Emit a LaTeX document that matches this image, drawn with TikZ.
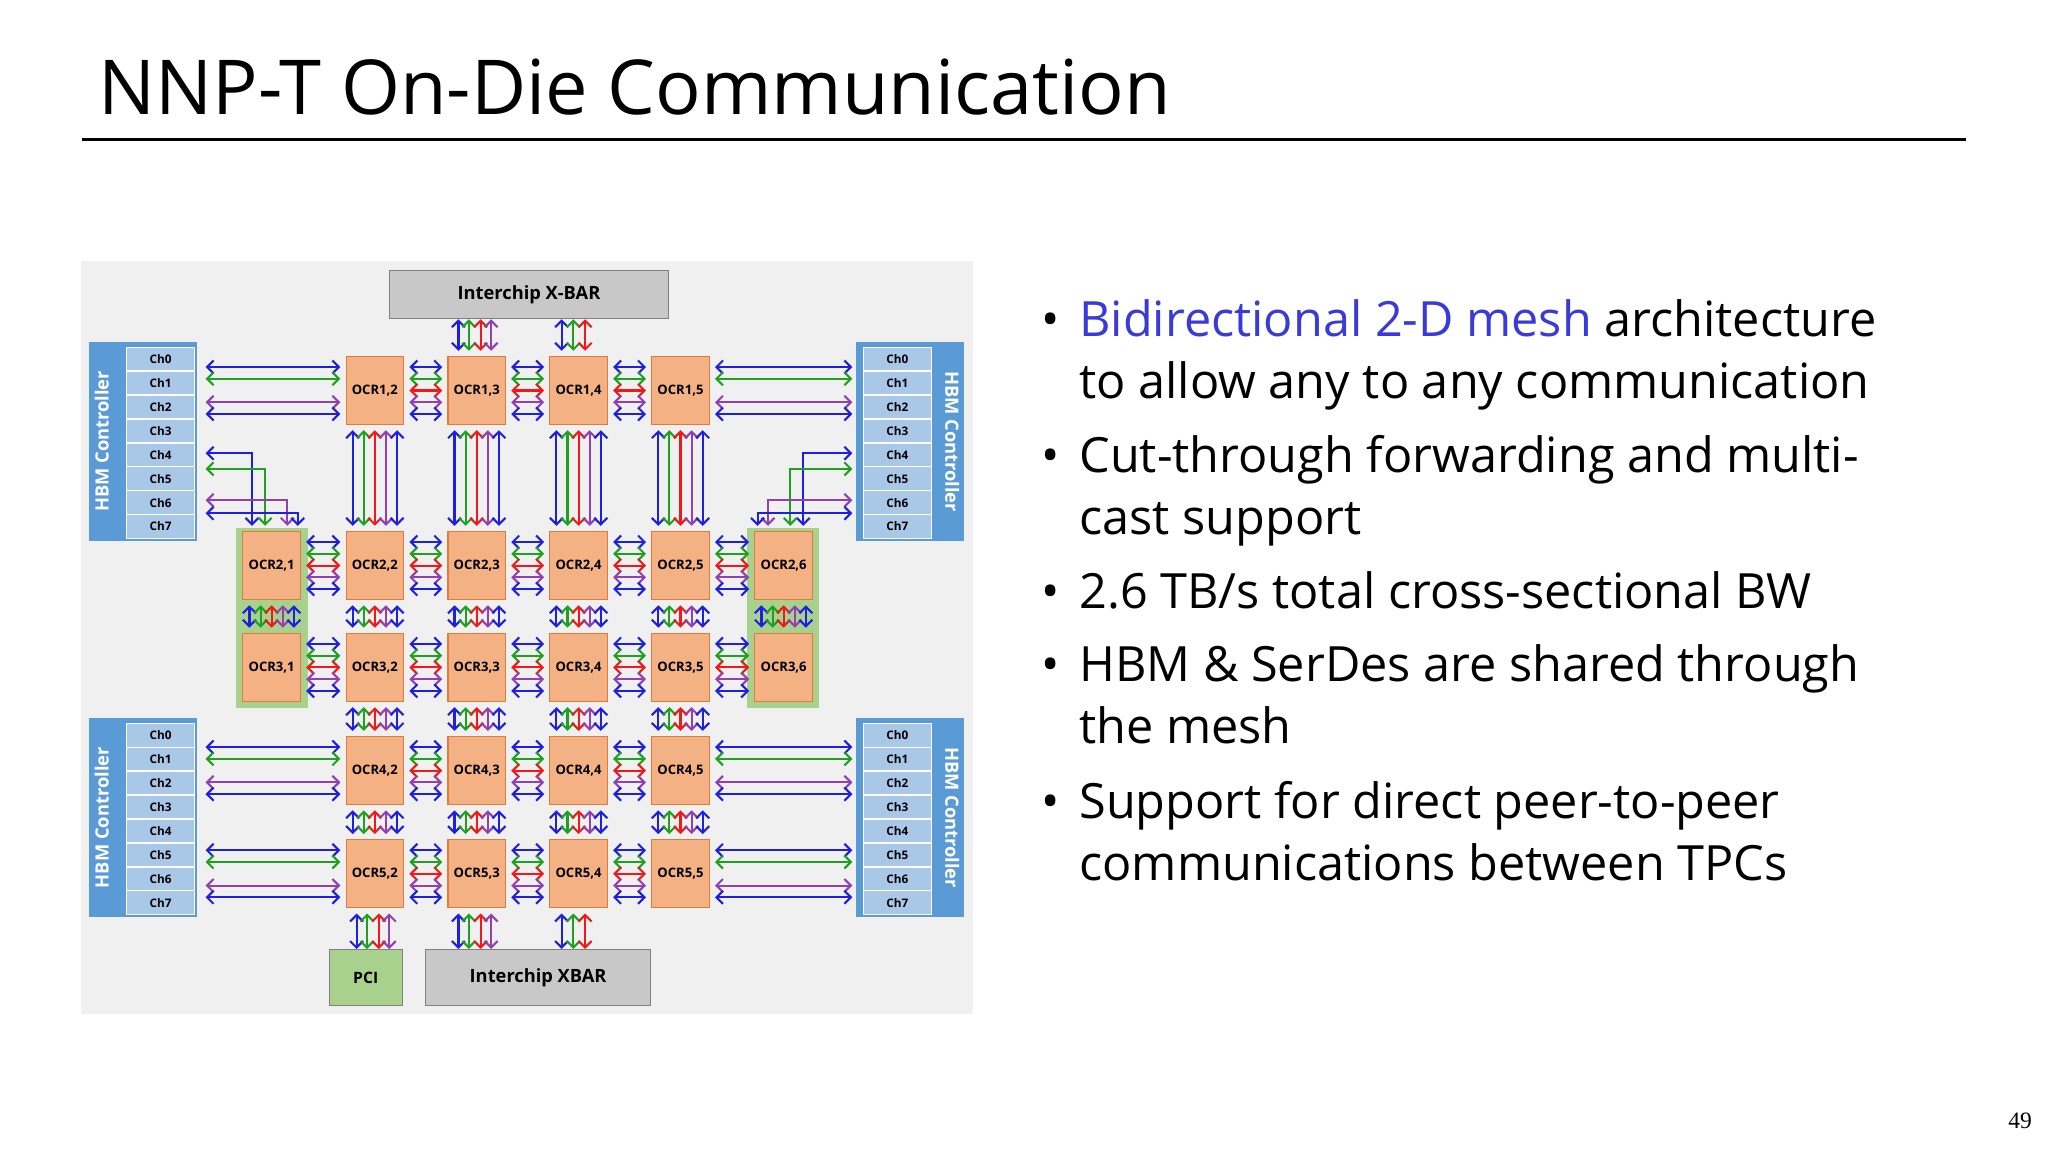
\documentclass[tikz,border=0pt]{standalone}
\usepackage{fontspec}
\setmainfont{Open Sans}
\newfontfamily\pagefont{Liberation Serif}
\usetikzlibrary{arrows,arrows.meta}
\definecolor{hbmblue}{HTML}{5B9BD5}
\definecolor{chblue}{HTML}{A9C8E8}
\definecolor{ocr}{HTML}{F4B183}
\definecolor{ocrline}{HTML}{E07B39}
\definecolor{tpc}{HTML}{A9D18E}
\definecolor{barg}{HTML}{C8C8C8}
\definecolor{lblue}{HTML}{1F1FE0}
\definecolor{lgreen}{HTML}{20A020}
\definecolor{lred}{HTML}{F01818}
\definecolor{lviolet}{HTML}{9040B0}
\definecolor{meshtext}{HTML}{3A3AD8}
\tikzset{
  ocrbox/.style={draw=ocrline,fill=ocr,minimum width=22pt,minimum height=26pt,inner sep=0pt,font=\fontsize{5}{6}\selectfont\bfseries},
  chbox/.style={draw=white,fill=chblue,minimum width=26pt,minimum height=9pt,inner sep=0pt,font=\fontsize{4.5}{5}\selectfont\bfseries},
  barbox/.style={draw=gray,fill=barg,inner sep=0pt,font=\fontsize{7}{8}\selectfont\bfseries},
  link/.style={{Straight Barb[length=2.5pt,width=5pt]}-{Straight Barb[length=2.5pt,width=5pt]},line width=0.8pt},
  bullet/.style={anchor=base west,font=\fontsize{18.6}{22}\selectfont,inner sep=0pt}
}
% horizontal and vertical bundles
\newcommand\hlink[2]{\foreach \lc/\lo in {lblue/9,lgreen/4.5,lred/0,lviolet/-4.5,lblue/-9}
  \draw[link,\lc] ([yshift=\lo pt,xshift=2pt]#1.east) -- ([yshift=\lo pt,xshift=-2pt]#2.west);}
\newcommand\vlink[2]{\foreach \lc/\lo in {lblue/-8.5,lgreen/-4.25,lred/0,lviolet/4.25,lblue/8.5}
  \draw[link,\lc] ([xshift=\lo pt,yshift=-2pt]#1.south) -- ([xshift=\lo pt,yshift=2pt]#2.north);}
\begin{document}
\begin{tikzpicture}[x=0.5pt,y=-0.5pt]
\useasboundingbox (0,0) rectangle (1568,882);
% title
\node[anchor=base west,inner sep=0pt,font=\fontsize{29}{33}\selectfont] (title) at (75,88) {NNP-T On-Die Communication};
\draw[line width=1pt] (63,107) -- (1505,107);
% panel
\fill[gray!12] (62,200) rectangle (745,776);
\node[barbox,minimum width=107pt,minimum height=18.5pt] (xbartop) at (405,225.5) {Interchip X-BAR};
\node[barbox,minimum width=86pt,minimum height=21.5pt] (xbarbot) at (412,748.5) {Interchip XBAR};
\node[draw=gray,fill=tpc,minimum width=28pt,minimum height=21.5pt,inner sep=0pt,font=\fontsize{6}{7}\selectfont\bfseries] (pci) at (280,748.5) {PCI};
% TPC groups
\fill[tpc] (181,404) rectangle (236,542);
\fill[tpc] (572,404) rectangle (627,542);
% HBM controllers
\foreach \n/\x/\y/\cx/\tx/\rot in {lt/68/262/123/78/90,rt/655/262/687/729/-90,lb/68/550/123/78/90,rb/655/550/687/729/-90}{
  \fill[hbmblue] (\x,\y) rectangle ++(83,152);
  \node[rotate=\rot,text=white,font=\fontsize{7}{8}\selectfont\bfseries] (\n hbm) at (\tx,\y+76) {HBM Controller};
  \foreach \k in {0,...,7}
    \node[chbox] (\n\k) at (\cx,\y+13+\k*18.3) {Ch\k};
}
% OCR grid
\foreach \r/\y in {1/299,2/433,3/511,4/590,5/669}
  \foreach \c/\x in {1/208,2/287,3/365,4/443,5/521,6/600}{
    \pgfmathtruncatemacro\ok{(\r==1 || \r>3) ? ((\c>1 && \c<6) ? 1 : 0) : 1}
    \ifnum\ok=1
      \node[ocrbox] (o\r\c) at (\x,\y) {OCR\r,\c};
    \fi
  }
% mesh links
\foreach \r in {1,4,5}{\hlink{o\r2}{o\r3}\hlink{o\r3}{o\r4}\hlink{o\r4}{o\r5}}
\foreach \r in {2,3}{\hlink{o\r1}{o\r2}\hlink{o\r2}{o\r3}\hlink{o\r3}{o\r4}\hlink{o\r4}{o\r5}\hlink{o\r5}{o\r6}}
\foreach \c in {2,...,5}{\vlink{o1\c}{o2\c}\vlink{o2\c}{o3\c}\vlink{o3\c}{o4\c}\vlink{o4\c}{o5\c}}
\vlink{o21}{o31}\vlink{o26}{o36}
% HBM to mesh
\foreach \r/\s/\t in {1/lt/rt,4/lb/rb,5/lb/rb}
  \foreach \c/\o in {lblue/9,lgreen/4.5,lviolet/-4.5,lblue/-9}{
    \draw[link,\c] ([yshift=\o pt,xshift=4pt]o\r2.west -| \s0.east) -- ([yshift=\o pt,xshift=-2pt]o\r2.west);
    \draw[link,\c] ([yshift=\o pt,xshift=2pt]o\r5.east) -- ([yshift=\o pt,xshift=-4pt]o\r5.east -| \t0.west);
  }
% HBM to TPC columns
\foreach \c/\y/\o in {lblue/347/-7.5,lgreen/359/-2.5,lviolet/383/6,lblue/393/10}{
  \coordinate (hy) at (0,\y);
  \draw[link,\c] ([xshift=4pt]lt0.east |- hy) -| ([xshift=\o pt,yshift=2pt]o21.north);
  \draw[link,\c] ([xshift=-4pt]rt0.west |- hy) -| ([xshift=-\o pt,yshift=2pt]o26.north);
}
% interchip and PCI
\foreach \c/\o in {lblue/-7,lgreen/-3,lred/1.5,lviolet/5.5}{
  \draw[link,\c] ([xshift=\o pt,yshift=2pt]o13.north) -- ([xshift=\o pt]o13.north |- xbartop.south);
  \draw[link,\c] ([xshift=\o pt,yshift=-2pt]o52.south) -- ([xshift=\o pt]o52.south |- pci.north);
  \draw[link,\c] ([xshift=\o pt,yshift=-2pt]o53.south) -- ([xshift=\o pt]o53.south |- xbarbot.north);
}
\foreach \c/\o in {lblue/-6.5,lgreen/-2,lred/2.5}{
  \draw[link,\c] ([xshift=\o pt,yshift=2pt]o14.north) -- ([xshift=\o pt]o14.north |- xbartop.south);
  \draw[link,\c] ([xshift=\o pt,yshift=-2pt]o54.south) -- ([xshift=\o pt]o54.south |- xbarbot.north);
}
% bullets
\foreach \y in {258,362,466,522,627}
  \node[bullet] at (797,\y) {•};
\node[bullet] (b1) at (826,258) {\textcolor{meshtext}{Bidirectional 2-D mesh} architecture};
\node[bullet] (b1b) at (826,305) {to allow any to any communication};
\node[bullet] (b2) at (826,362) {Cut-through forwarding and multi-};
\node[bullet] (b2b) at (826,409) {cast support};
\node[bullet] (b3) at (826,466) {2.6 TB/s total cross-sectional BW};
\node[bullet] (b4) at (826,522) {HBM \& SerDes are shared through};
\node[bullet] (b4b) at (826,569) {the mesh};
\node[bullet] (b5) at (826,627) {Support for direct peer-to-peer};
\node[bullet] (b5b) at (826,674) {communications between TPCs};
\node[anchor=base east,inner sep=0pt,font=\pagefont\fontsize{9}{10}\selectfont] (page) at (1556,864) {49};
\end{tikzpicture}
\end{document}
